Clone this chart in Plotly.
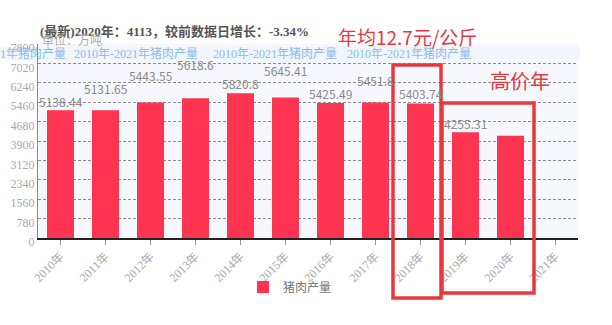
import plotly.graph_objects as go

# ---- data ----
years = ["2010年", "2011年", "2012年", "2013年", "2014年", "2015年",
         "2016年", "2017年", "2018年", "2019年", "2020年", "2021年"]
pork_output = [5138.44, 5131.65, 5443.55, 5618.6, 5820.8, 5645.41,
               5425.49, 5451.8, 5403.74, 4255.31, 4113, None]
value_labels = ["5138.44", "5131.65", "5443.55", "5618.6", "5820.8", "5645.41",
                "5425.49", "5451.8", "5403.74", "4255.31", None, None]
y_ticks = [0, 780, 1560, 2340, 3120, 3900, 4680, 5460, 6240, 7020, 7800]
series_name = "猪肉产量"
headline = "(最新)2020年：4113，较前数据日增长：-3.34%"
unit_text = "单位：万吨"
marquee_text = "2010年-2021年猪肉产量"
note_price = "年均12.7元/公斤"
note_high = "高价年"

# ---- style ----
label_lift = [9, 22, 27, 34, 10, 27, 10, 22, 10, 9, 0, 0]   # px above bar top
BAR = "#ff3451"
RED = "#e8383d"
W, H = 612, 325
L, R, T, B = 38, 34, 44, 87
PW, PH = W - L - R, H - T - B
def px(x): return (x - L) / PW
def py(y): return (H - B - y) / PH

SERIF = "Liberation Serif, Noto Sans CJK SC"
SANS = "Noto Sans CJK SC, Noto Sans"

fig = go.Figure()
fig.add_trace(go.Bar(x=years, y=pork_output, name=series_name,
                     marker=dict(color=BAR, line=dict(width=0))))

ann = []
for yr, v, lab, lift in zip(years, pork_output, value_labels, label_lift):
    if v is None or lab is None:
        continue
    ann.append(dict(x=yr, y=v, xref="x", yref="y", text=lab, showarrow=False,
                    yanchor="middle", yshift=lift,
                    font=dict(size=12, color="#8a8a8a", family=SANS)))

# marquee band text
for sx in [-60, 72, 211, 345]:
    ann.append(dict(x=px(sx), y=py(53.5), xref="paper", yref="paper",
                    text=marquee_text, showarrow=False, xanchor="left",
                    yanchor="middle",
                    font=dict(size=12, color="#8cbdec", family=SERIF)))

ann.append(dict(x=0, y=py(31), xref="paper", yref="paper", text="<b>" + headline + "</b>",
                showarrow=False, xanchor="left", yanchor="middle",
                font=dict(size=13, color="#555555", family=SERIF)))
ann.append(dict(x=px(40), y=py(40), xref="paper", yref="paper", text=unit_text,
                showarrow=False, xanchor="left", yanchor="middle",
                font=dict(size=12, color="#aaaaaa", family=SERIF)))
ann.append(dict(x=px(407), y=py(37), xref="paper", yref="paper", text=note_price,
                showarrow=False, xanchor="center", yanchor="middle",
                font=dict(size=19, color=RED, family=SANS)))
ann.append(dict(x=px(520), y=py(80), xref="paper", yref="paper", text=note_high,
                showarrow=False, xanchor="center", yanchor="middle",
                font=dict(size=20, color=RED, family=SANS)))

shapes = [
    dict(type="rect", xref="paper", yref="paper", x0=px(0), x1=px(580),
         y0=py(60), y1=py(47), fillcolor="#f1f6fd", line=dict(width=0), layer="below"),
    dict(type="rect", xref="paper", yref="paper", x0=px(393), x1=px(441),
         y0=py(298), y1=py(65), line=dict(color=RED, width=3.5)),
    dict(type="rect", xref="paper", yref="paper", x0=px(442), x1=px(534),
         y0=py(293), y1=py(103), line=dict(color=RED, width=3.5)),
]

fig.update_layout(
    width=W, height=H,
    margin=dict(l=L, r=R, t=T, b=B),
    paper_bgcolor="white", plot_bgcolor="#f7f8fd",
    bargap=0.4,
    annotations=ann, shapes=shapes,
    showlegend=True,
    legend=dict(orientation="h", x=px(290), xanchor="center", y=py(287),
                yanchor="middle", font=dict(size=12, color="#777777", family=SANS),
                bgcolor="rgba(0,0,0,0)"),
    xaxis=dict(range=[-0.5, 11.5], showline=True, linecolor="#222222", linewidth=1.5,
               ticks="outside", ticklen=5, tickcolor="#999999", tickangle=-45,
               tickfont=dict(size=12, color="#aaaaaa", family=SERIF),
               showgrid=False, zeroline=False),
    yaxis=dict(range=[0, 7800], tickvals=y_ticks, showline=True, linecolor="#888888",
               gridcolor="#8c8c8c", griddash="3px,2px", gridwidth=1, zeroline=False,
               ticklabelshift=4,
               tickfont=dict(size=12, color="#aaaaaa", family=SERIF)),
    font=dict(family=SANS),
)

fig.write_html("out.html")
